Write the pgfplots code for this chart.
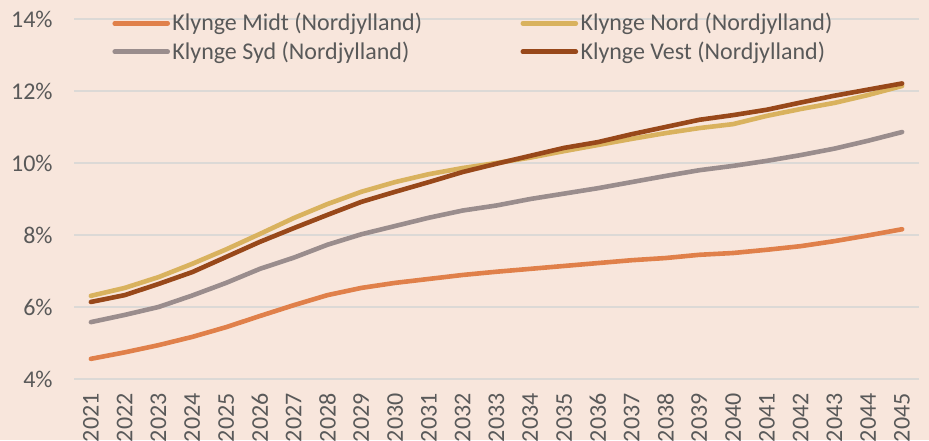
\documentclass[border=0pt]{standalone}
\usepackage{fontspec}
\setmainfont{Carlito}
\usepackage{pgfplots}
\pgfplotsset{compat=1.18}
\definecolor{bg}{HTML}{F8E6DC}
\definecolor{gridgray}{HTML}{DCD9D6}
\definecolor{txt}{HTML}{595959}
\definecolor{midt}{HTML}{E0804A}
\definecolor{nord}{HTML}{D9B25E}
\definecolor{syd}{HTML}{9A8D8D}
\definecolor{vest}{HTML}{98481A}

\begin{document}
\begin{tikzpicture}
\fill[bg] (0,0) rectangle (464.5pt,220pt);
\useasboundingbox (0,0) rectangle (464.5pt,220pt);
\begin{axis}[
    at={(37pt,30.5pt)}, anchor=south west,
    scale only axis,
    width=422.5pt, height=180pt,
    xmin=2020.5, xmax=2045.5,
    ymin=4, ymax=14,
    axis line style={draw=none},
    major tick length=0pt,
    ytick={4,6,...,14},
    xtick={2021,...,2045},
    ymajorgrids,
    grid style={color=gridgray, line width=0.75pt},
    /pgf/number format/assume math mode=true,
    tick label style={font=\fontsize{12}{14}\selectfont, text=txt},
    yticklabel={\pgfmathprintnumber{\tick}\%},
    yticklabel style={anchor=east, inner sep=0pt},
    yticklabel shift=10.5pt,
    xticklabel={\pgfmathprintnumber[1000 sep={}]{\tick}},
    xticklabel style={rotate=90, anchor=east, inner sep=0pt},
    xticklabel shift=7pt,
    legend columns=2,
    legend cell align=left,
    legend image code/.code={\draw[#1, line cap=round] (0pt,0pt) -- (26.5pt,0pt);},
    legend style={draw=none, fill=none, inner sep=0pt,
        at={(0.045,1.024)}, anchor=north west,
        font=\fontsize{12}{14}\selectfont, text=txt,
        nodes={inner sep=1.2pt},
        row sep=1.5pt,
        /tikz/every even column/.append style={column sep=48pt}},
    every axis plot/.append style={line width=2.3pt, line join=round, line cap=round},
]
\addplot[midt] coordinates {
 (2021,4.56) (2022,4.74) (2023,4.94) (2024,5.17) (2025,5.44) (2026,5.75)
 (2027,6.05) (2028,6.33) (2029,6.53) (2030,6.67) (2031,6.78) (2032,6.89)
 (2033,6.98) (2034,7.06) (2035,7.14) (2036,7.22) (2037,7.30) (2038,7.36)
 (2039,7.45) (2040,7.50) (2041,7.59) (2042,7.69) (2043,7.83) (2044,7.99) (2045,8.16)
};
\addlegendentry{Klynge Midt (Nordjylland)}
\addplot[nord] coordinates {
 (2021,6.31) (2022,6.53) (2023,6.83) (2024,7.20) (2025,7.60) (2026,8.03)
 (2027,8.47) (2028,8.86) (2029,9.20) (2030,9.47) (2031,9.69) (2032,9.86)
 (2033,10.00) (2034,10.15) (2035,10.33) (2036,10.50) (2037,10.67) (2038,10.83)
 (2039,10.97) (2040,11.08) (2041,11.31) (2042,11.50) (2043,11.67) (2044,11.89) (2045,12.14)
};
\addlegendentry{Klynge Nord (Nordjylland)}
\addplot[syd] coordinates {
 (2021,5.58) (2022,5.78) (2023,6.00) (2024,6.32) (2025,6.67) (2026,7.06)
 (2027,7.37) (2028,7.73) (2029,8.02) (2030,8.25) (2031,8.48) (2032,8.68)
 (2033,8.82) (2034,9.00) (2035,9.15) (2036,9.30) (2037,9.47) (2038,9.64)
 (2039,9.80) (2040,9.92) (2041,10.06) (2042,10.22) (2043,10.40) (2044,10.62) (2045,10.86)
};
\addlegendentry{Klynge Syd (Nordjylland)}
\addplot[vest] coordinates {
 (2021,6.14) (2022,6.33) (2023,6.64) (2024,6.97) (2025,7.39) (2026,7.81)
 (2027,8.19) (2028,8.56) (2029,8.92) (2030,9.20) (2031,9.47) (2032,9.75)
 (2033,9.98) (2034,10.20) (2035,10.42) (2036,10.58) (2037,10.80) (2038,11.00)
 (2039,11.20) (2040,11.33) (2041,11.48) (2042,11.68) (2043,11.87) (2044,12.04) (2045,12.21)
};
\addlegendentry{Klynge Vest (Nordjylland)}
\end{axis}
\end{tikzpicture}
\end{document}
